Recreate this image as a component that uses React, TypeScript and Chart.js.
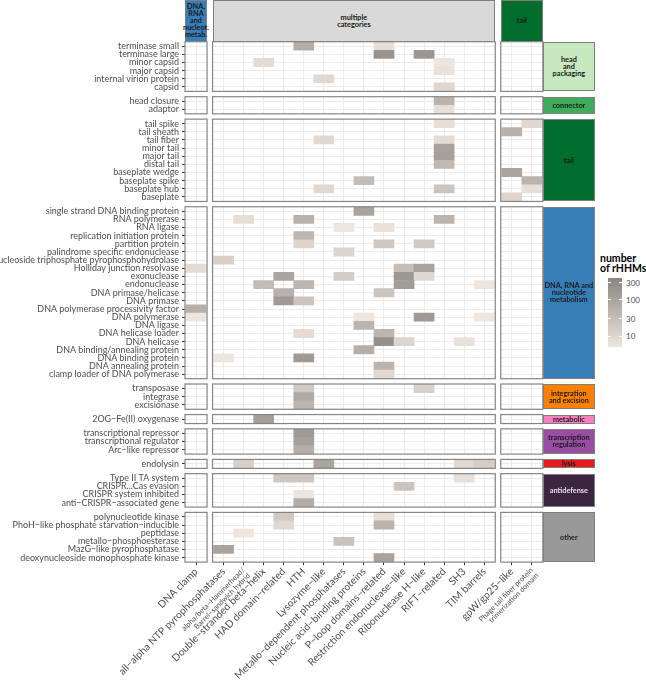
import React, { useEffect, useRef } from "react";
import { Chart, registerables } from "chart.js";

Chart.register(...registerables);

type Cell = [string, string, number];

// ---------- column categories (x) ----------
const dnaMetabCols = ["DNA clamp"];
const multipleCols = [
  "all−alpha NTP pyrophosphatases",
  "alpha/beta−Hammerhead/|Barrel−sandwich hybrid",
  "Double−stranded beta−helix",
  "HAD domain−related",
  "HTH",
  "Lysozyme−like",
  "Metallo−dependent phosphatases",
  "Nucleic acid−binding proteins",
  "P−loop domains−related",
  "Restriction endonuclease−like",
  "Ribonuclease H−like",
  "RIFT−related",
  "SH3",
  "TIM barrels",
];
const tailCols = ["gpW/gp25−like", "Phage tail fiber protein|trimerization domain"];

const colStrips = [["DNA,", "RNA", "and", "nucleot.", "metab."], ["multiple", "categories"], ["tail"]];
const colStripFills = ["#377EB8", "#D9D9D9", "#006D2C"];

// ---------- row categories (y) ----------
const headRows = ["terminase small", "terminase large", "minor capsid", "major capsid", "internal virion protein", "capsid"];
const connectorRows = ["head closure", "adaptor"];
const tailRows = ["tail spike", "tail sheath", "tail fiber", "minor tail", "major tail", "distal tail", "baseplate wedge", "baseplate spike", "baseplate hub", "baseplate"];
const dnaRows = [
  "single strand DNA binding protein", "RNA polymerase", "RNA ligase", "replication initiation protein",
  "partition protein", "palindrome specific endonuclease", "nucleoside triphosphate pyrophosphohydrolase",
  "Holliday junction resolvase", "exonuclease", "endonuclease", "DNA primase/helicase", "DNA primase",
  "DNA polymerase processivity factor", "DNA polymerase", "DNA ligase", "DNA helicase loader", "DNA helicase",
  "DNA binding/annealing protein", "DNA binding protein", "DNA annealing protein", "clamp loader of DNA polymerase",
];
const integrationRows = ["transposase", "integrase", "excisionase"];
const metabolicRows = ["2OG−Fe(II) oxygenase"];
const transcriptionRows = ["transcriptional repressor", "transcriptional regulator", "Arc−like repressor"];
const lysisRows = ["endolysin"];
const antidefenseRows = ["Type II TA system", "CRISPR...Cas evasion", "CRISPR system inhibited", "anti−CRISPR−associated gene"];
const otherRows = [
  "polynucleotide kinase", "PhoH−like phosphate starvation−inducible", "peptidase",
  "metallo−phosphoesterase", "MazG−like pyrophosphatase", "deoxynucleoside monophosphate kinase",
];

const rowStrips = [
  ["head", "and", "packaging"], ["connector"], ["tail"], ["DNA, RNA and", "nucleotide", "metabolism"],
  ["integration", "and excision"], ["metabolic"], ["transcription", "regulation"], ["lysis"], ["antidefense"], ["other"],
];
const rowStripFills = ["#C7E9C0", "#41AB5D", "#006D2C", "#377EB8", "#FF7F00", "#F781BF", "#984EA3", "#E41A1C", "#3B2540", "#999999"];
const rowStripText = ["#1A1A1A", "#1A1A1A", "#1A1A1A", "#1A1A1A", "#1A1A1A", "#1A1A1A", "#1A1A1A", "#1A1A1A", "#E6E6E6", "#1A1A1A"];

// ---------- cells: [row, column, number of rHHMs] ----------
const headCells: Cell[] = [
  ["terminase small", "HTH", 68],
  ["terminase small", "P−loop domains−related", 7],
  ["terminase large", "P−loop domains−related", 205],
  ["terminase large", "Ribonuclease H−like", 190],
  ["minor capsid", "Double−stranded beta−helix", 8],
  ["minor capsid", "RIFT−related", 5],
  ["major capsid", "RIFT−related", 6],
  ["internal virion protein", "Lysozyme−like", 9],
  ["capsid", "RIFT−related", 10],
];
const connectorCells: Cell[] = [
  ["head closure", "RIFT−related", 50],
  ["adaptor", "RIFT−related", 7],
];
const tailCells: Cell[] = [
  ["tail spike", "RIFT−related", 7],
  ["tail spike", "Phage tail fiber protein", 9],
  ["tail sheath", "gpW/gp25−like", 55],
  ["tail fiber", "Lysozyme−like", 9],
  ["tail fiber", "RIFT−related", 8],
  ["minor tail", "RIFT−related", 110],
  ["major tail", "RIFT−related", 120],
  ["distal tail", "RIFT−related", 38],
  ["baseplate wedge", "gpW/gp25−like", 100],
  ["baseplate spike", "Nucleic acid−binding proteins", 32],
  ["baseplate spike", "Phage tail fiber protein", 50],
  ["baseplate hub", "Lysozyme−like", 9],
  ["baseplate hub", "RIFT−related", 23],
  ["baseplate hub", "Phage tail fiber protein", 7],
  ["baseplate", "gpW/gp25−like", 11],
];
const dnaCells: Cell[] = [
  ["single strand DNA binding protein", "Nucleic acid−binding proteins", 100],
  ["RNA polymerase", "alpha/beta−Hammerhead/", 7],
  ["RNA polymerase", "HTH", 55],
  ["RNA polymerase", "RIFT−related", 50],
  ["RNA ligase", "Metallo−dependent phosphatases", 5],
  ["RNA ligase", "P−loop domains−related", 6],
  ["replication initiation protein", "HTH", 45],
  ["partition protein", "HTH", 11],
  ["partition protein", "P−loop domains−related", 20],
  ["partition protein", "Ribonuclease H−like", 19],
  ["palindrome specific endonuclease", "Metallo−dependent phosphatases", 11],
  ["nucleoside triphosphate pyrophosphohydrolase", "all−alpha NTP pyrophosphatases", 14],
  ["Holliday junction resolvase", "DNA clamp", 8],
  ["Holliday junction resolvase", "Restriction endonuclease−like", 30],
  ["Holliday junction resolvase", "Ribonuclease H−like", 100],
  ["exonuclease", "HAD domain−related", 97],
  ["exonuclease", "Metallo−dependent phosphatases", 16],
  ["exonuclease", "Restriction endonuclease−like", 172],
  ["exonuclease", "Ribonuclease H−like", 9],
  ["endonuclease", "Double−stranded beta−helix", 33],
  ["endonuclease", "HTH", 45],
  ["endonuclease", "Restriction endonuclease−like", 138],
  ["endonuclease", "TIM barrels", 5],
  ["DNA primase/helicase", "HAD domain−related", 55],
  ["DNA primase/helicase", "P−loop domains−related", 23],
  ["DNA primase", "HAD domain−related", 158],
  ["DNA primase", "HTH", 23],
  ["DNA polymerase processivity factor", "DNA clamp", 62],
  ["DNA polymerase", "DNA clamp", 5],
  ["DNA polymerase", "Nucleic acid−binding proteins", 5],
  ["DNA polymerase", "Ribonuclease H−like", 158],
  ["DNA polymerase", "TIM barrels", 5],
  ["DNA ligase", "Nucleic acid−binding proteins", 50],
  ["DNA helicase loader", "HTH", 8],
  ["DNA helicase loader", "P−loop domains−related", 45],
  ["DNA helicase", "P−loop domains−related", 260],
  ["DNA helicase", "Restriction endonuclease−like", 11],
  ["DNA helicase", "SH3", 6],
  ["DNA binding/annealing protein", "Nucleic acid−binding proteins", 62],
  ["DNA binding protein", "all−alpha NTP pyrophosphatases", 5],
  ["DNA binding protein", "HTH", 165],
  ["DNA annealing protein", "P−loop domains−related", 50],
  ["clamp loader of DNA polymerase", "P−loop domains−related", 9],
];
const integrationCells: Cell[] = [
  ["transposase", "HTH", 19],
  ["transposase", "Ribonuclease H−like", 13],
  ["integrase", "HTH", 78],
  ["excisionase", "HTH", 50],
];
const metabolicCells: Cell[] = [["2OG−Fe(II) oxygenase", "Double−stranded beta−helix", 127]];
const transcriptionCells: Cell[] = [
  ["transcriptional repressor", "HTH", 150],
  ["transcriptional regulator", "HTH", 116],
  ["Arc−like repressor", "HTH", 62],
];
const lysisCells: Cell[] = [
  ["endolysin", "alpha/beta−Hammerhead/", 14],
  ["endolysin", "Lysozyme−like", 97],
  ["endolysin", "SH3", 9],
  ["endolysin", "TIM barrels", 16],
];
const antidefenseCells: Cell[] = [
  ["Type II TA system", "HAD domain−related", 21],
  ["Type II TA system", "HTH", 21],
  ["Type II TA system", "SH3", 7],
  ["CRISPR...Cas evasion", "Restriction endonuclease−like", 23],
  ["CRISPR system inhibited", "HTH", 5],
  ["anti−CRISPR−associated gene", "HTH", 68],
];
const otherCells: Cell[] = [
  ["polynucleotide kinase", "HAD domain−related", 19],
  ["polynucleotide kinase", "P−loop domains−related", 7],
  ["PhoH−like phosphate starvation−inducible", "HAD domain−related", 9],
  ["PhoH−like phosphate starvation−inducible", "P−loop domains−related", 50],
  ["peptidase", "alpha/beta−Hammerhead/", 5],
  ["metallo−phosphoesterase", "Metallo−dependent phosphatases", 26],
  ["MazG−like pyrophosphatase", "all−alpha NTP pyrophosphatases", 106],
  ["deoxynucleoside monophosphate kinase", "P−loop domains−related", 106],
];

// legend
const legendTicks = [300, 100, 30, 10];
const VMIN = 5;
const VMAX = 400;

// ---------- styling / layout ----------
const FONT = "Lato, 'Open Sans', sans-serif";
const GRID = "#EBEBEB";
const LOW = [238, 229, 222];
const HIGH = [139, 134, 130];
const E = 0.55;
const UX = 20.05;
const UY = 8.15;
const GAPX = 5.5;
const GAPY = 5.3;
const LEFT0 = 185;
const TOP0 = 41.7;
const PAGE_H = 685;

function fillFor(v: number) {
  const t = Math.max(0, Math.min(1, Math.log(v / VMIN) / Math.log(VMAX / VMIN)));
  const c = LOW.map((l, i) => Math.round(l + (HIGH[i] - l) * t));
  return `rgb(${c[0]},${c[1]},${c[2]})`;
}

function fitFont(text: string, target: number, weight = "normal") {
  const ctx = document.createElement("canvas").getContext("2d");
  if (!ctx) return 10;
  ctx.font = `${weight} 20px ${FONT}`;
  return (20 * target) / ctx.measureText(text).width;
}

const borderPlugin = {
  id: "panelBorder",
  afterDatasetsDraw(chart: any) {
    const { ctx, chartArea: a } = chart;
    ctx.save();
    ctx.strokeStyle = "#858585";
    ctx.lineWidth = 1.2;
    ctx.strokeRect(a.left, a.top, a.right - a.left, a.bottom - a.top);
    ctx.restore();
  },
};

type PanelProps = {
  left: number; top: number; w: number; h: number;
  rows: string[]; cols: string[]; cells: Cell[];
  showY: boolean; showX: boolean; extraLeft: number;
  ySize: number; xSize: number;
};

function Panel(p: PanelProps) {
  const ref = useRef<HTMLCanvasElement>(null);
  const cLeft = p.showY ? 0 : Math.floor(p.left - (p.showX ? p.extraLeft : 2));
  const cTop = Math.floor(p.top - 2);
  const cRight = Math.ceil(p.left + p.w + (p.showX ? 8 : 2));
  const cBottom = p.showX ? PAGE_H : Math.ceil(p.top + p.h + 2);
  const cw = cRight - cLeft;
  const ch = cBottom - cTop;
  const padL = p.left - cLeft;
  const padR = cRight - (p.left + p.w);
  const padT = p.top - cTop;
  const padB = p.showX ? 1 : cBottom - (p.top + p.h);
  const xAxisH = p.showX ? cBottom - (p.top + p.h) - 1 : 0;

  useEffect(() => {
    const canvas = ref.current;
    if (!canvas) return;
    const key = (c: string) => c.split("|")[0];
    const data = p.cells.map(([r, c, v]) => {
      const ri = p.rows.indexOf(r);
      const ci = p.cols.findIndex((k) => key(k) === c);
      return { x: ci, y: [ri - 0.5, ri + 0.5], v };
    });
    const chart = new Chart(canvas, {
      type: "bar",
      data: {
        datasets: [
          {
            data: data as any,
            backgroundColor: (c: any) => fillFor(c.raw ? c.raw.v : VMIN),
            borderWidth: 0,
            barThickness: UX,
            categoryPercentage: 1,
            barPercentage: 1,
          },
        ],
      },
      options: {
        responsive: false,
        animation: false,
        devicePixelRatio: 1,
        events: [],
        layout: { padding: { left: p.showY ? 0 : padL, right: padR, top: padT, bottom: padB } },
        plugins: { legend: { display: false }, tooltip: { enabled: false }, title: { display: false } },
        scales: {
          x: {
            type: "linear",
            min: -E,
            max: p.cols.length - 1 + E,
            bounds: "data",
            offset: false,
            afterBuildTicks: (s: any) => {
              s.ticks = p.cols.map((_, i) => ({ value: i }));
            },
            grid: { offset: false, color: GRID, lineWidth: 1, drawTicks: p.showX, tickLength: 3, tickColor: "#333333", tickWidth: 1 },
            border: { display: false },
            ticks: {
              display: p.showX,
              autoSkip: false,
              minRotation: 45,
              maxRotation: 45,
              padding: 1,
              color: "#4D4D4D",
              font: (c: any) => {
                const lab = p.cols[c.index] || "";
                return { family: FONT, size: lab.includes("|") ? p.xSize * 0.72 : p.xSize, lineHeight: 1.05 };
              },
              callback: (v: any) => {
                const lab = p.cols[Math.round(Number(v))];
                return lab ? lab.split("|") : "";
              },
            },
            afterFit: (s: any) => {
              s.height = xAxisH;
              s.paddingLeft = 0;
              s.paddingRight = 0;
            },
          } as any,
          y: {
            type: "linear",
            reverse: true,
            min: -E,
            max: p.rows.length - 1 + E,
            bounds: "data",
            offset: false,
            afterBuildTicks: (s: any) => {
              s.ticks = p.rows.map((_, i) => ({ value: i }));
            },
            grid: { color: GRID, lineWidth: 1, drawTicks: p.showY, tickLength: 3, tickColor: "#333333", tickWidth: 1 },
            border: { display: false },
            ticks: {
              display: p.showY,
              autoSkip: false,
              padding: 3,
              color: "#4D4D4D",
              font: { family: FONT, size: p.ySize },
              callback: (v: any) => p.rows[Math.round(Number(v))] || "",
            },
            afterFit: (s: any) => {
              s.width = p.showY ? padL : 0;
              s.paddingTop = 0;
              s.paddingBottom = 0;
            },
          } as any,
        },
      },
      plugins: [borderPlugin],
    });
    return () => chart.destroy();
  }, []);

  return (
    <canvas
      ref={ref}
      width={cw}
      height={ch}
      style={{ position: "absolute", left: cLeft, top: cTop, width: cw, height: ch }}
    />
  );
}

function Strip({ left, top, w, h, fill, lines, color }: any) {
  return (
    <div
      style={{
        position: "absolute", left, top, width: w, height: h, background: fill,
        border: "1px solid #7F7F7F", boxSizing: "border-box",
        display: "flex", flexDirection: "column", alignItems: "center", justifyContent: "center",
        fontFamily: FONT, fontWeight: 700, fontSize: 7.3, lineHeight: "7px", color, textAlign: "center",
      }}
    >
      {lines.map((l: string, i: number) => (
        <div key={i} style={{ whiteSpace: "nowrap" }}>{l}</div>
      ))}
    </div>
  );
}

export default function App() {
  const ySize = fitFont("deoxynucleoside monophosphate kinase", 159);
  const xSize = fitFont("Metallo−dependent phosphatases", 152);

  const rowGroups = [
    { rows: headRows, cells: headCells },
    { rows: connectorRows, cells: connectorCells },
    { rows: tailRows, cells: tailCells },
    { rows: dnaRows, cells: dnaCells },
    { rows: integrationRows, cells: integrationCells },
    { rows: metabolicRows, cells: metabolicCells },
    { rows: transcriptionRows, cells: transcriptionCells },
    { rows: lysisRows, cells: lysisCells },
    { rows: antidefenseRows, cells: antidefenseCells },
    { rows: otherRows, cells: otherCells },
  ];
  const colGroups = [dnaMetabCols, multipleCols, tailCols];
  const extraLefts = [0, 125, 95];

  const rowBoxes: { top: number; h: number }[] = [];
  let y = TOP0;
  rowGroups.forEach((g) => {
    const h = (g.rows.length - 1 + 2 * E) * UY;
    rowBoxes.push({ top: y, h });
    y += h + GAPY;
  });
  const colBoxes: { left: number; w: number }[] = [];
  let x = LEFT0;
  colGroups.forEach((c) => {
    const w = (c.length - 1 + 2 * E) * UX;
    colBoxes.push({ left: x, w });
    x += w + GAPX;
  });
  const rightEdge = colBoxes[2].left + colBoxes[2].w;

  const panels: any[] = [];
  rowGroups.forEach((g, i) => {
    colGroups.forEach((cols, j) => {
      const keys = cols.map((c) => c.split("|")[0]);
      panels.push(
        <Panel
          key={`${i}-${j}`}
          left={colBoxes[j].left}
          top={rowBoxes[i].top}
          w={colBoxes[j].w}
          h={rowBoxes[i].h}
          rows={g.rows}
          cols={cols}
          cells={g.cells.filter((c) => keys.includes(c[1]))}
          showY={j === 0}
          showX={i === rowGroups.length - 1}
          extraLeft={extraLefts[j]}
          ySize={ySize}
          xSize={xSize}
        />
      );
    });
  });

  const barTop = 278;
  const barH = 69;
  const tickY = (v: number) => barTop + barH - (Math.log(v / VMIN) / Math.log(VMAX / VMIN)) * barH;

  return (
    <div style={{ position: "absolute", left: 0, top: 0, width: 646, height: 685, overflow: "hidden", background: "#FFFFFF" }}>
      {colGroups.map((_, j) => (
        <Strip key={`cs${j}`} left={colBoxes[j].left} top={0} w={colBoxes[j].w} h={TOP0}
          fill={colStripFills[j]} lines={colStrips[j]} color="#1A1A1A" />
      ))}
      {panels}
      {rowGroups.map((_, i) => (
        <Strip key={`rs${i}`} left={rightEdge} top={rowBoxes[i].top} w={52} h={rowBoxes[i].h}
          fill={rowStripFills[i]} lines={rowStrips[i]} color={rowStripText[i]} />
      ))}
      <div style={{ position: "absolute", left: 600, top: 254, fontFamily: FONT, fontWeight: 700, fontSize: 10.5, lineHeight: "9.5px", color: "#000", whiteSpace: "nowrap" }}>
        <div>number</div>
        <div>of rHHMs</div>
      </div>
      <div style={{ position: "absolute", left: 608, top: barTop, width: 14, height: barH, background: `linear-gradient(to top, rgb(${LOW.join(",")}), rgb(${HIGH.join(",")}))` }} />
      {legendTicks.map((v) => (
        <React.Fragment key={v}>
          <div style={{ position: "absolute", left: 608, top: tickY(v) - 0.5, width: 3, height: 1, background: "#FFFFFF" }} />
          <div style={{ position: "absolute", left: 619, top: tickY(v) - 0.5, width: 3, height: 1, background: "#FFFFFF" }} />
          <div style={{ position: "absolute", left: 626, top: tickY(v) - 5, height: 10, lineHeight: "10px", fontFamily: FONT, fontSize: 8, color: "#4D4D4D" }}>{v}</div>
        </React.Fragment>
      ))}
    </div>
  );
}
